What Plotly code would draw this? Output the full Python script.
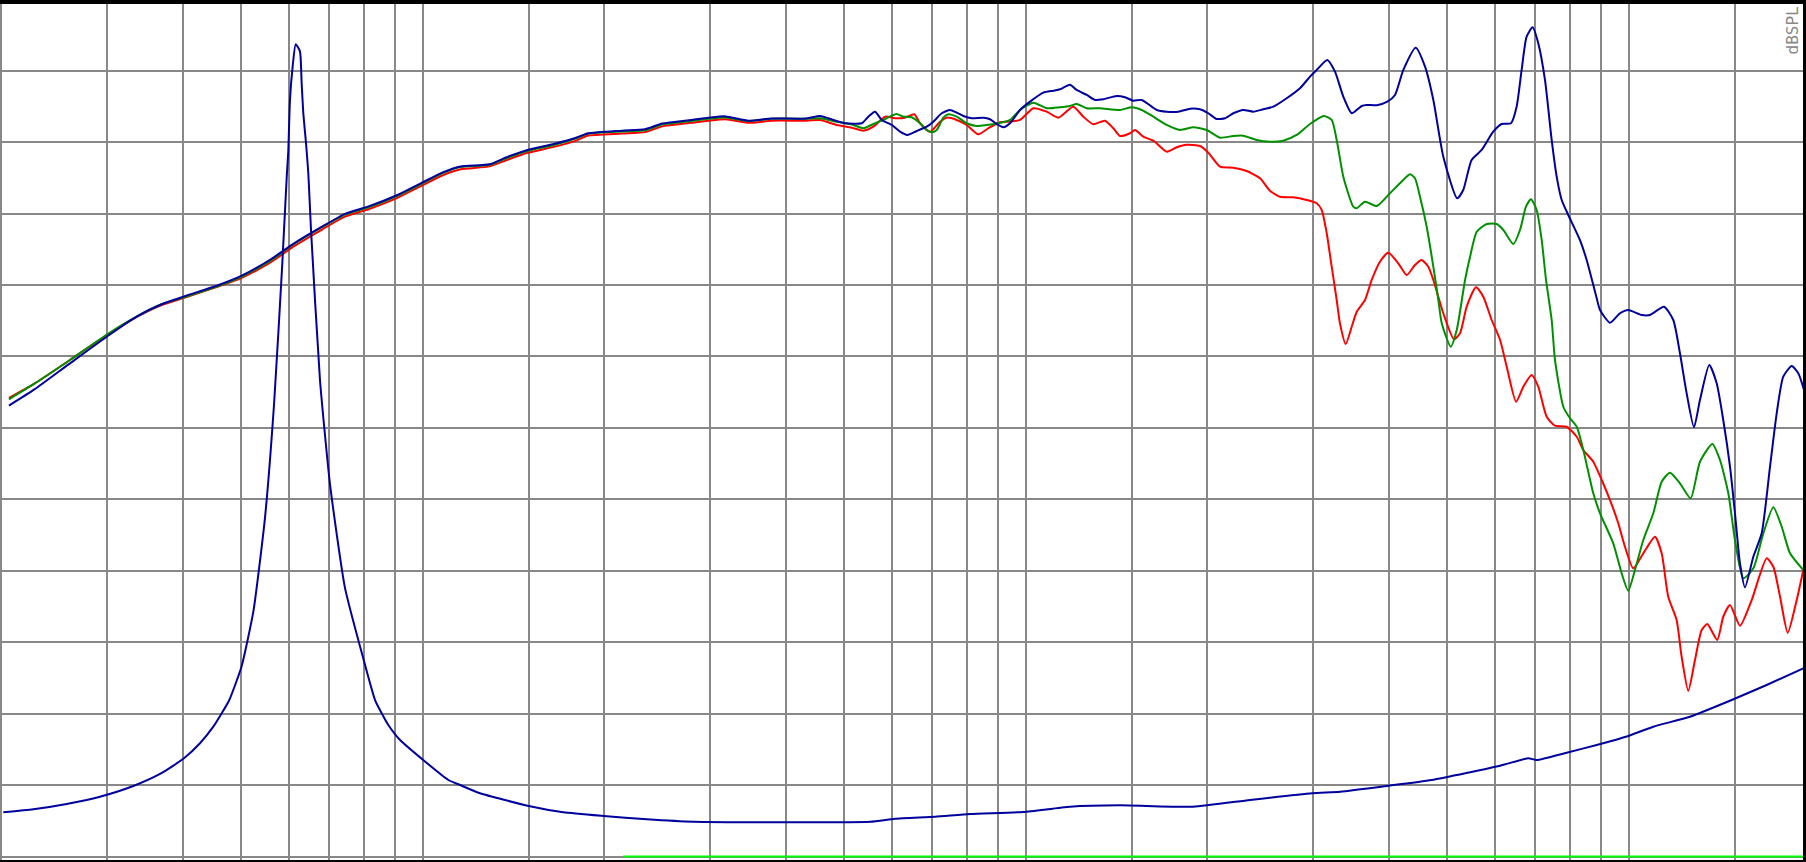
import plotly.graph_objects as go

# ---------------- data ----------------
# Low/mid frequency part (Hz) shared sampling for the three SPL curves
lf_freq = [20.6, 22.7, 25.9, 30.2, 33.7, 36.9, 40.2, 45.9, 50.1, 56.0, 61.1, 68.2, 74.5,
           81.3, 90.8, 99.1, 108.2, 115.6, 129.1, 137.9, 149.2, 164.4, 179.6, 187.6,
           214.1, 233.8, 249.7, 278.7, 297.7, 317.9, 347.2, 379.2, 432.7]
lf_green = [77.0, 78.09, 79.70, 81.64, 82.84, 83.65, 84.14, 84.94, 85.59, 86.72, 87.85, 89.06, 89.95,
            90.43, 91.24, 92.04, 92.85, 93.25, 93.41, 93.89, 94.38, 94.78, 95.27, 95.59,
            95.75, 95.83, 96.23, 96.48, 96.64, 96.72, 96.48, 96.64, 96.64]
lf_red = [77.1, 78.1, 79.7, 81.6, 82.8, 83.6, 84.1, 84.9, 85.5, 86.6, 87.7, 88.9, 89.8,
          90.3, 91.1, 91.9, 92.7, 93.1, 93.3, 93.75, 94.25, 94.65, 95.1, 95.45,
          95.6, 95.7, 96.1, 96.35, 96.5, 96.6, 96.35, 96.5, 96.5]
lf_blue = [76.56, 77.69, 79.46, 81.5, 82.84, 83.65, 84.2, 85.0, 85.65, 86.8, 87.9, 89.1, 90.0,
           90.5, 91.3, 92.1, 92.9, 93.3, 93.45, 93.95, 94.45, 94.85, 95.3, 95.6,
           95.8, 95.9, 96.3, 96.55, 96.7, 96.8, 96.5, 96.65, 96.65]

# High frequency part, per curve
hf_blue_freq = [456.0, 479.7, 501.5, 534.6, 548.3, 562.5, 577.0, 599.5, 618.8, 636.3, 659.5, 685.2,
                702.8, 725.7, 749.0, 768.4, 788.0, 813.8, 850.6, 872.6, 895.2, 918.1, 941.9, 978.6,
                1016.5, 1069.5, 1111.1, 1139.9, 1184.3, 1215.0, 1262.4, 1302.9, 1344.9, 1415.4,
                1461.1, 1508.2, 1557.5, 1649.1, 1713.3, 1791.2, 1873.0, 1945.5, 2008.3, 2073.6,
                2140.5, 2209.6, 2295.2, 2384.6, 2477.5, 2574.0, 2709.0, 2850.4, 2961.0, 3037.7,
                3163.3, 3258.0, 3363.1, 3472.6, 3607.9, 3677.5, 3820.8, 3978.8, 4097.0, 4229.3,
                4434.0, 4594.9, 4742.7, 4926.4, 5195.0, 5316.0, 5489.0, 5702.8, 5961.0, 6155.0,
                6378.7, 6518.3, 6644.1, 6772.3, 6929.8, 7079.5, 7263.8, 7452.0, 7595.7, 7742.3,
                7939.0, 8300.0, 8517.2, 8850.0, 8962.6, 9311.0, 9672.0, 9983.9, 10508, 10846,
                11442, 11856, 12162, 12477, 12832, 13128, 13602, 13992, 14348, 14723, 15005,
                15295, 15590, 16094, 16616, 17154, 17597, 18044, 18634, 19109, 19604]
hf_blue_spl = [96.83, 96.55, 96.32, 96.32, 96.78, 97.13, 96.55, 96.20, 95.73, 95.50, 95.78, 96.08,
               96.43, 97.02, 97.25, 97.06, 96.83, 96.67, 96.71, 96.60, 96.27, 96.04, 96.32, 97.25,
               97.83, 98.46, 98.60, 98.70, 99.02, 98.65, 98.30, 97.95, 98.00, 98.23,
               98.14, 97.90, 97.95, 97.25, 97.13, 97.13, 97.34, 97.30, 97.02, 96.62,
               96.67, 97.02, 97.25, 97.13, 97.30, 97.48, 98.07, 98.77, 99.58, 100.05,
               100.75, 99.93, 98.18, 97.02, 97.53, 97.60, 97.58, 97.83, 98.30, 100.05,
               101.61, 100.28, 97.95, 93.98, 91.07, 91.65, 93.75, 94.45, 95.73, 96.27,
               96.32, 97.48, 100.05, 102.38, 103.04, 101.92, 99.35, 95.15, 92.58, 90.95,
               89.90, 88.15, 86.75, 84.07, 83.25, 82.36, 83.02, 83.25, 82.90, 82.90,
               83.48, 82.55, 80.22, 77.42, 75.04, 76.95, 79.40, 78.12, 75.55, 72.28, 69.02,
               65.52, 63.84, 65.98, 67.62, 72.28, 76.02, 78.58, 79.33, 78.82, 77.42]

hf_green_freq = [456.0, 485.9, 517.8, 538.0, 558.9, 580.5, 599.5, 611.1, 626.6, 647.0, 668.0, 685.2,
                 698.5, 712.0, 730.1, 744.2, 768.4, 798.2, 829.3, 861.6, 900.7, 941.9, 978.6,
                 1029.5, 1083.4, 1139.9, 1184.3, 1215.0, 1262.4, 1328.1, 1433.4, 1499.2, 1557.5,
                 1627.9, 1713.3, 1803.0, 1896.6, 1996.0, 2100.4, 2209.6, 2295.2, 2415.4, 2541.4,
                 2674.0, 2813.8, 2961.0, 3123.6, 3217.0, 3279.1, 3363.1, 3493.7, 3539.0, 3652.9,
                 3820.8, 4019.0, 4175.2, 4337.9, 4421.6, 4507.0, 4623.7, 4742.7, 4834.3, 4897.0,
                 5068.9, 5185.8, 5353.2, 5456.6, 5597.8, 5815.9, 6041.2, 6196.2, 6437.6, 6603.0,
                 6755.3, 6886.0, 7037.0, 7172.8, 7292.7, 7452.0, 7547.0, 7790.9, 7992.5, 8200.0,
                 8409.2, 8735.0, 8962.6, 9427.0, 9734.0, 9983.9, 10242, 10573, 10985, 11342,
                 11705, 12162, 12669, 13128, 13760, 14171, 14629, 15005, 15488, 16094, 16720,
                 17372, 17937, 18516, 19478]
hf_green_spl = [96.67, 96.43, 96.20, 95.97, 96.27, 96.55, 96.85, 96.97, 96.78, 96.74, 96.32, 95.85,
                95.69, 95.85, 96.71, 96.95, 96.78, 96.32, 96.13, 96.20, 96.32, 96.55, 97.25,
                97.76, 97.37, 97.44, 97.53, 97.67, 97.37, 97.37, 97.25, 97.44, 97.25,
                96.78, 96.20, 95.85, 96.04, 95.85, 95.31, 95.43, 95.45, 95.15, 95.03,
                95.10, 95.50, 96.27, 96.83, 96.55, 95.15, 92.58, 90.48, 90.37, 90.83,
                90.53, 91.42, 92.12, 92.75, 92.47, 91.18, 89.08, 86.28, 83.95, 82.32,
                80.68, 81.85, 85.35, 86.98, 88.73, 89.27, 89.27, 88.85, 87.87, 88.85,
                90.48, 91.00, 90.25, 88.15, 85.35, 82.55, 79.75, 76.48, 75.67, 75.08,
                73.45, 70.42, 69.02, 66.92, 64.82, 63.60, 65.05, 67.15, 69.02, 71.23,
                71.86, 71.12, 70.07, 72.63, 73.87, 72.75, 70.42, 67.15, 64.47, 65.17, 67.62,
                69.44, 68.08, 66.22, 65.05]

hf_red_freq = [456.0, 485.9, 514.6, 538.0, 558.9, 584.4, 607.0, 630.7, 653.4, 668.0, 693.9, 721.0,
               739.6, 768.4, 798.2, 834.5, 866.9, 906.6, 941.9, 978.6, 1029.5, 1083.4, 1132.4,
               1199.2, 1245.9, 1294.5, 1353.6, 1397.3, 1433.4, 1489.3, 1518.0, 1566.8, 1627.9,
               1713.3, 1780.1, 1849.2, 1945.5, 2008.3, 2100.4, 2209.6, 2325.4, 2447.0, 2541.4,
               2640.4, 2777.5, 2924.2, 3037.7, 3096.5, 3156.6, 3217.0, 3279.1, 3320.0, 3394.0,
               3472.6, 3539.8, 3652.9, 3748.0, 3868.0, 3993.0, 4148.5, 4283.5, 4421.6, 4535.8,
               4652.0, 4742.7, 4926.4, 5131.6, 5251.0, 5386.8, 5581.0, 5739.0, 5926.0, 6119.0,
               6277.0, 6504.0, 6688.0, 6902.0, 7079.5, 7311.0, 7547.0, 7889.0, 8200.0, 8409.2,
               8735.0, 9021.0, 9311.0, 9610.0, 9858.0, 10176, 10573, 11057, 11342, 11630, 12008,
               12240, 12555, 12880, 13213, 13499, 14025, 14348, 14723, 15295, 15994, 16937,
               17372, 17822, 18354, 18995, 19478]
hf_red_spl = [96.55, 96.20, 96.01, 95.80, 96.08, 96.78, 96.67, 96.71, 96.95, 96.32, 95.73, 96.43,
              96.71, 96.55, 96.20, 95.55, 95.97, 96.39, 96.43, 96.55, 97.37, 97.13, 96.71,
              97.48, 96.78, 96.25, 96.50, 95.97, 95.43, 95.62, 95.85, 95.38, 95.10,
              94.33, 94.64, 94.82, 94.73, 94.26, 93.28, 93.21, 92.98, 92.47, 91.60,
              91.18, 91.14, 90.95, 90.72, 90.25, 88.62, 86.28, 83.95, 82.32, 80.87,
              82.08, 83.13, 83.95, 85.35, 86.63, 87.26, 86.52, 85.70, 86.40, 86.75,
              86.28, 85.35, 83.02, 81.20, 81.62, 83.48, 84.84, 84.18, 82.55, 81.15,
              79.28, 76.83, 77.88, 78.70, 77.88, 75.78, 75.15, 75.08, 74.38, 73.45,
              72.63, 71.35, 69.95, 68.32, 66.68, 65.17, 66.22, 67.38, 66.22, 63.18, 61.55,
              58.98, 56.60, 58.75, 60.85, 61.27, 60.15, 61.78, 62.60, 61.15, 62.95, 65.87,
              65.28, 63.18, 60.66, 62.95, 65.05]

# Impedance curve (ohm)
imp_freq = [20.16, 22.61, 25.68, 29.16, 33.12, 36.67, 40.19, 42.72, 44.95, 46.42, 47.79, 50.1,
            52.4, 54.74, 56.70, 58.48, 59.50, 59.85, 60.24, 60.86, 61.57, 62.58, 62.99, 63.39,
            64.05, 64.61, 65.28, 67.55, 70.19, 74.32, 80.25, 83.37, 85.50, 87.70, 91.71, 110.3,
            115.3, 124.5, 149.9, 171.1, 199.6, 235.3, 281.1, 551.8, 607.0, 707.5, 808.5, 990.9,
            1184.3, 1433.4, 1894, 2355, 2987, 3323, 3969, 4712, 6119, 6815, 7037, 7889, 8850,
            9897, 10985, 12635, 14820, 16937, 19478]
imp_ohm = [6.19, 6.61, 7.35, 8.37, 9.87, 11.55, 13.75, 15.85, 18.17, 20.05, 21.91, 26.67,
           34.39, 47.30, 63.44, 82.78, 95.16, 98.66, 105.9, 110.6, 113.7, 112.7, 108.2, 104.0,
           99.83, 95.63, 87.7, 66.7, 52.1, 37.6, 26.8, 21.9, 20.05, 18.41, 16.31, 10.71,
           10.01, 8.85, 7.07, 6.19, 5.67, 5.21, 4.87, 4.87, 5.29, 5.57, 5.95, 6.23,
           6.97, 7.17, 6.97, 7.91, 8.85, 9.07, 9.87, 10.71, 12.71, 13.75, 13.51, 14.53, 15.61,
           16.77, 18.17, 19.57, 21.91, 24.01, 26.34]

# Reference line at the bottom
ref_freq = [215, 19700]
ref_level = [45, 45]

# Grid positions
grid_freq = [20, 30, 40, 50, 60, 70, 80, 90, 100, 150, 200, 300, 400, 500, 600, 700, 800, 900,
             1000, 1500, 2000, 3000, 4000, 5000, 6000, 7000, 8000, 9000, 10000, 15000]
grid_db = [45, 50, 55, 60, 65, 70, 75, 80, 85, 90, 95, 100, 105]

# ---------------- figure ----------------
W, H = 1806, 862
RED, GREEN, BLUE = "#ff0000", "#009000", "#00009c"

fig = go.Figure()

fig.add_trace(go.Scatter(x=ref_freq, y=ref_level, mode="lines",
                         line=dict(color="#00ff00", width=2), hoverinfo="skip"))
fig.add_trace(go.Scatter(x=imp_freq, y=imp_ohm, yaxis="y2", mode="lines",
                         line=dict(color=BLUE, width=2, shape="spline", smoothing=0.5)))
fig.add_trace(go.Scatter(x=lf_freq + hf_red_freq, y=lf_red + hf_red_spl, mode="lines",
                         line=dict(color=RED, width=2, shape="spline", smoothing=0.6)))
fig.add_trace(go.Scatter(x=lf_freq + hf_green_freq, y=lf_green + hf_green_spl, mode="lines",
                         line=dict(color=GREEN, width=2, shape="spline", smoothing=0.6)))
fig.add_trace(go.Scatter(x=lf_freq + hf_blue_freq, y=lf_blue + hf_blue_spl, mode="lines",
                         line=dict(color=BLUE, width=2, shape="spline", smoothing=0.6)))

fig.update_layout(
    width=W, height=H,
    margin=dict(l=0, r=0, t=0, b=0),
    paper_bgcolor="white", plot_bgcolor="white",
    showlegend=False,
    xaxis=dict(type="log", range=[1.29900, 4.29403], tickvals=grid_freq,
               showticklabels=False, ticks="", showgrid=True, gridcolor="#888888",
               gridwidth=2, zeroline=False, showline=False, fixedrange=True),
    yaxis=dict(range=[44.615, 104.946], tickvals=grid_db, showticklabels=False, ticks="",
               showgrid=True, gridcolor="#888888", gridwidth=2, zeroline=False,
               showline=False, fixedrange=True),
    yaxis2=dict(range=[-0.77, 119.89], overlaying="y", visible=False, showgrid=False,
                fixedrange=True),
    shapes=[
        dict(type="rect", xref="paper", yref="paper", x0=0, x1=1, y0=1 - 4 / H, y1=1,
             fillcolor="black", line=dict(width=0), layer="above"),
        dict(type="rect", xref="paper", yref="paper", x0=1 - 3 / W, x1=1, y0=0, y1=1,
             fillcolor="black", line=dict(width=0), layer="above"),
        dict(type="rect", xref="paper", yref="paper", x0=0, x1=1, y0=0, y1=2 / H,
             fillcolor="black", line=dict(width=0), layer="above"),
    ],
    annotations=[
        dict(text="dBSPL", xref="paper", yref="paper", x=1 - 3 / W, y=1 - 5 / H,
             xanchor="right", yanchor="top", textangle=-90, showarrow=False,
             font=dict(family="DejaVu Sans Mono", size=16, color="#888888")),
    ],
)

fig.write_html("out.html", config={"displayModeBar": False},
               post_script="document.body.style.margin='0';")
